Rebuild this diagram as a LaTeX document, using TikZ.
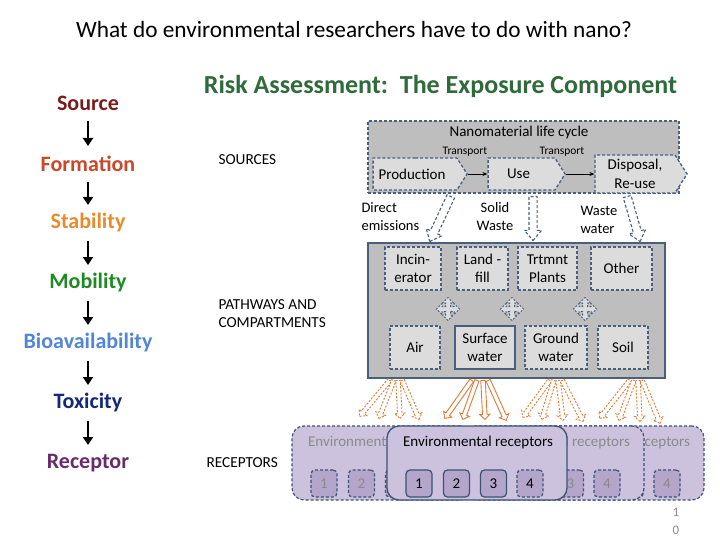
\documentclass[tikz,border=0pt]{standalone}
\usepackage{fontspec}
\setmainfont{Carlito}
\usetikzlibrary{shapes.arrows,shapes.symbols,arrows.meta,calc}
\definecolor{srcred}{HTML}{7B1C1C}
\definecolor{formred}{HTML}{C9482B}
\definecolor{stabor}{HTML}{E98B2A}
\definecolor{mobgreen}{HTML}{1E8B22}
\definecolor{bioblue}{HTML}{5285D6}
\definecolor{toxnavy}{HTML}{14287A}
\definecolor{recpurp}{HTML}{6A2A6E}
\definecolor{riskgreen}{HTML}{2F6B3A}
\definecolor{boxgray}{HTML}{BEBEBE}
\definecolor{innergray}{HTML}{DCDCDC}
\definecolor{slate}{HTML}{4A5F7E}
\definecolor{orangearr}{HTML}{E07A35}
\definecolor{lav}{HTML}{CCC2DE}
\definecolor{lavdark}{HTML}{B4A5CB}
\definecolor{recborder}{HTML}{3D5275}
\definecolor{backtxt}{HTML}{8A8A8A}
\newcommand\harrow[4]{\path let \p1=(#3), \p2=(#4), \n1={atan2(\y2-\y1,\x2-\x1)}, \n2={veclen(\x2-\x1,\y2-\y1)} in node[#1, minimum height=\n2, rotate=\n1, anchor=tail] (#2) at (\p1) {};}
\tikzset{
  lbl/.style={font=\fontsize{22}{26}\selectfont\bfseries},
  flowarr/.style={line width=2.6pt, -{Triangle[length=8pt,width=10pt]}},
  capt/.style={font=\fontsize{15.3}{17.5}\selectfont, anchor=west, align=left},
  bigbox/.style={draw=slate, fill=boxgray, line width=1.3pt, inner sep=0pt},
  inbox/.style={draw=slate, fill=innergray, line width=1.3pt, dash pattern=on 3pt off 2pt, font=\fontsize{15}{18.5}\selectfont, align=center, inner sep=0pt},
  sig/.style={inbox, signal, signal to=east, signal pointer angle=115},
  grayarr/.style={single arrow, draw=slate, fill=white, line width=1.1pt, dash pattern=on 3pt off 2pt, inner xsep=0pt, inner ysep=3.5pt, single arrow head extend=4.5pt, single arrow tip angle=80, minimum width=0pt},
  orarr/.style={single arrow, draw=orangearr, fill=white, line width=0.9pt, dash pattern=on 2pt off 1.5pt, inner xsep=0pt, inner ysep=1.8pt, single arrow head extend=2.8pt, single arrow tip angle=90, minimum width=0pt},
  orsolid/.style={orarr, solid},
  recback/.style={draw=recborder, fill=lav, line width=1.2pt, dash pattern=on 3pt off 2pt, rounded corners=12pt, minimum width=180pt, minimum height=74pt},
  recfront/.style={draw=recborder, fill=lav, line width=1.3pt, rounded corners=12pt, minimum width=180pt, minimum height=74pt},
  rectxt/.style={font=\fontsize{15}{18}\selectfont},
  numbox/.style={draw=recborder, fill=lavdark, line width=1.2pt, rounded corners=4pt, minimum width=26pt, minimum height=27pt, inner sep=0pt, font=\fontsize{15}{18}\selectfont},
  numback/.style={numbox, dash pattern=on 3pt off 2pt, text=backtxt},
  fourway/.pic={\draw[draw=slate, fill=innergray, line width=1pt, dash pattern=on 2pt off 1.5pt]
    (2.5,2.5) -- (6,2.5) -- (6,5.5) -- (11.5,0) -- (6,-5.5) -- (6,-2.5) -- (2.5,-2.5) -- (2.5,-6) -- (5.5,-6) -- (0,-11.5) -- (-5.5,-6) -- (-2.5,-6) -- (-2.5,-2.5) -- (-6,-2.5) -- (-6,-5.5) -- (-11.5,0) -- (-6,5.5) -- (-6,2.5) -- (-2.5,2.5) -- (-2.5,6) -- (-5.5,6) -- (0,11.5) -- (5.5,6) -- (2.5,6) -- cycle;}
}
\begin{document}
\begin{tikzpicture}[x=1pt,y=-1pt]
\useasboundingbox (0,0) rectangle (720,540);
% titles
\node[font=\fontsize{23.3}{27}\selectfont] (title) at (354,29) {What do environmental researchers have to do with nano?};
\node[font=\fontsize{26}{30}\selectfont\bfseries, text=riskgreen] (risk) at (440.5,86) {Risk Assessment:\ \ The Exposure Component};
% left chain
\node[lbl, text=srcred] (src) at (88,103) {Source};
\node[lbl, text=formred] (form) at (88,164) {Formation};
\node[lbl, text=stabor] (stab) at (88,223) {Stability};
\node[lbl, text=mobgreen] (mob) at (88,283) {Mobility};
\node[lbl, text=bioblue] (bio) at (88,343) {Bioavailability};
\node[lbl, text=toxnavy] (tox) at (88,403) {Toxicity};
\node[lbl, text=recpurp] (rec) at (88,463) {Receptor};
\foreach \a/\b in {src/form,form/stab,stab/mob,mob/bio,bio/tox,tox/rec}
  \draw[flowarr] ([yshift=-18pt]\a.center) -- ([yshift=18pt]\b.center);
% captions
\node[capt] (csrc) at (215,160) {SOURCES};
\node[capt] (cpath) at (215,313.5) {PATHWAYS AND\\COMPARTMENTS};
\node[capt] (crec) at (203,463) {RECEPTORS};
% top box
\node[bigbox, dash pattern=on 3pt off 2pt, minimum width=311pt, minimum height=72pt] (life) at (523.5,157) {};
\node[font=\fontsize{15}{18}\selectfont] (lifet) at (519,133) {Nanomaterial life cycle};
\node[sig, minimum width=94pt, minimum height=32pt] (prod) at (415,174) {Production\hspace{6pt}};
\node[sig, minimum width=77pt, minimum height=32pt] (use) at (521.5,174) {Use\hspace{6pt}};
\node[sig, minimum width=92pt, minimum height=38pt] (disp) at (635,174) {Disposal,\\Re-use\hspace{4pt}};
\draw[line width=0.8pt, -{Stealth[length=5pt,width=4pt]}] (prod.east) -- (use.west);
\draw[line width=0.8pt, -{Stealth[length=5pt,width=4pt]}] (use.east) -- (disp.west);
\node[font=\fontsize{11.5}{13}\selectfont] (tr1) at (465,152) {Transport};
\node[font=\fontsize{11.5}{13}\selectfont] (tr2) at (562,152) {Transport};
% flow labels
\node[capt, font=\fontsize{14.5}{18}\selectfont] (ldir) at (358,217) {Direct\\emissions};
\node[font=\fontsize{14.5}{18}\selectfont, align=center] (lsol) at (495,217) {Solid\\Waste};
\node[capt, font=\fontsize{14.5}{18}\selectfont] (lww) at (577,220) {Waste\\water};
% middle box
\node[bigbox, minimum width=297pt, minimum height=135pt] (mid) at (516.5,310.5) {};
\coordinate (ga1) at (451,196); \coordinate (gb1) at (430,241);
\coordinate (ga2) at (533,196); \coordinate (gb2) at (533,240);
\coordinate (ga3) at (627,196); \coordinate (gb3) at (640,241);
\harrow{grayarr}{g1}{ga1}{gb1}
\harrow{grayarr}{g2}{ga2}{gb2}
\harrow{grayarr}{g3}{ga3}{gb3}
\node[inbox, minimum width=56pt, minimum height=43pt] (inc) at (413,268.5) {Incin-\\erator};
\node[inbox, minimum width=51pt, minimum height=43pt] (land) at (482.5,268.5) {Land -\\fill};
\node[inbox, minimum width=59pt, minimum height=43pt] (trt) at (547.5,268.5) {Trtmnt\\Plants};
\node[inbox, minimum width=61pt, minimum height=43pt] (oth) at (621.5,268.5) {Other};
\pic at (448,309) {fourway};
\pic at (512,309) {fourway};
\pic at (585,309) {fourway};
\node[inbox, minimum width=50pt, minimum height=43pt] (air) at (415,347.5) {Air};
\node[inbox, solid, minimum width=60pt, minimum height=43pt] (surf) at (485,347.5) {Surface\\water};
\node[inbox, minimum width=62pt, minimum height=43pt] (grd) at (556,347.5) {Ground\\water};
\node[inbox, minimum width=50pt, minimum height=43pt] (soil) at (623,347.5) {Soil};
% orange arrows
\foreach \k/\sx/\ex/\ey in {a1/390/360/416,a2/394/379/418,a3/398/400/418,a4/402/419/419,
  g1/550/523/417,g2/554/542/419,g3/558/563/420,g4/562/583/421,
  l1/630/600/418,l2/634/619/420,l3/638/640/421,l4/642/660/423}{
  \coordinate (s\k) at (\sx,380); \coordinate (e\k) at (\ex,\ey);
  \harrow{orarr}{o\k}{s\k}{e\k}
}
\foreach \k/\sx/\ex/\ey in {s1/472/445/418,s2/477/463/419,s3/483/485/419,s4/488/506/420}{
  \coordinate (s\k) at (\sx,380); \coordinate (e\k) at (\ex,\ey);
  \harrow{orsolid}{o\k}{s\k}{e\k}
}
% receptors
\begin{scope}[xshift=137pt]
  \node[recback] (rD) at (477,463) {};
  \node[rectxt, text=backtxt] (rDt) at (478,442) {Environmental receptors};
  \foreach \i/\x in {1/419,2/456.5,3/493.5,4/530} \node[numback] (rD\i) at (\x,483.5) {\i};
\end{scope}
\begin{scope}[xshift=77pt]
  \node[recback] (rC) at (477,463) {};
  \node[rectxt, text=backtxt] (rCt) at (478,442) {Environmental receptors};
  \foreach \i/\x in {1/419,2/456.5,3/493.5,4/530} \node[numback] (rC\i) at (\x,483.5) {\i};
\end{scope}
\begin{scope}[xshift=-95pt]
  \node[recback] (rA) at (477,463) {};
  \node[rectxt, text=backtxt] (rAt) at (478,442) {Environmental receptors};
  \foreach \i/\x in {1/419,2/456.5,3/493.5,4/530} \node[numback] (rA\i) at (\x,483.5) {\i};
\end{scope}
\node[recfront] (rB) at (477,463) {};
\node[rectxt] (rBt) at (478,442) {Environmental receptors};
\foreach \i/\x in {1/419,2/456.5,3/493.5} \node[numbox] (rB\i) at (\x,483.5) {\i};
\node[numbox, dash pattern=on 3pt off 2pt] (rB4) at (530,483.5) {4};
% page number
\node[font=\fontsize{13}{15}\selectfont, text=backtxt] (pg1) at (676,512) {1};
\node[font=\fontsize{13}{15}\selectfont, text=backtxt] (pg0) at (676,530) {0};
\end{tikzpicture}
\end{document}
